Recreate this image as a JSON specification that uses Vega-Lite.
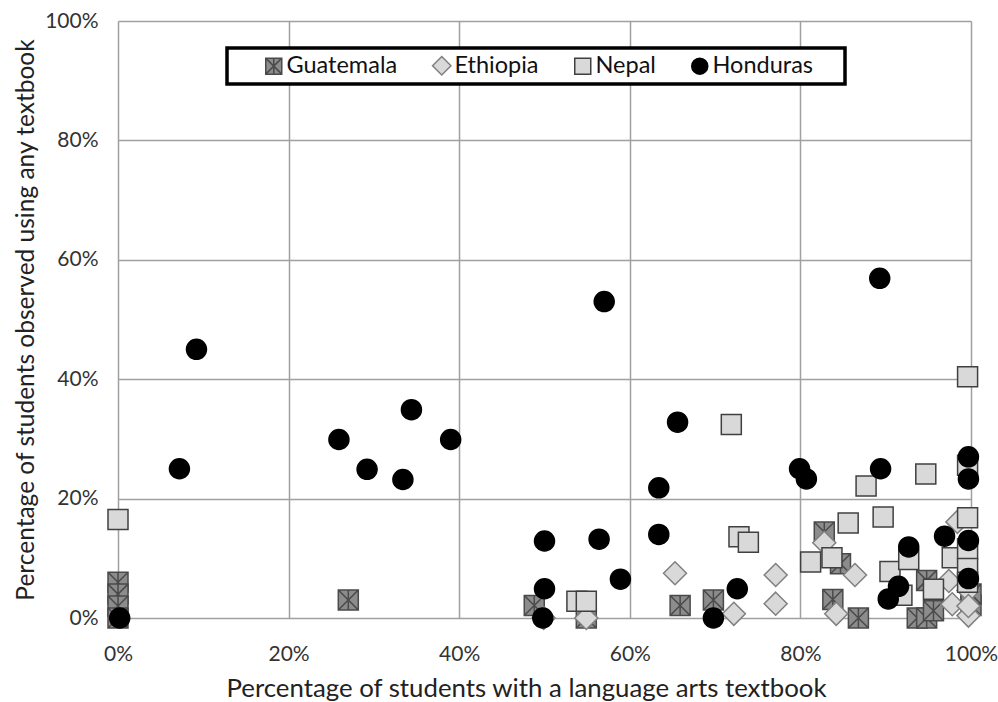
{
  "$schema": "https://vega.github.io/schema/vega-lite/v6.json",
  "width": 853,
  "height": 597,
  "autosize": {"type": "none"},
  "padding": {"left": 118, "top": 21, "right": 27, "bottom": 84},
  "background": "white",
  "data": {"values": [
    {"country": "Guatemala", "book": 0, "using": 6},
    {"country": "Guatemala", "book": 0, "using": 4},
    {"country": "Guatemala", "book": 0, "using": 2},
    {"country": "Guatemala", "book": 0, "using": 0},
    {"country": "Guatemala", "book": 27, "using": 3},
    {"country": "Guatemala", "book": 48.8, "using": 2.1},
    {"country": "Guatemala", "book": 54.9, "using": 0},
    {"country": "Guatemala", "book": 65.9, "using": 2.1},
    {"country": "Guatemala", "book": 69.8, "using": 3},
    {"country": "Guatemala", "book": 82.8, "using": 14.4},
    {"country": "Guatemala", "book": 84.7, "using": 9.1},
    {"country": "Guatemala", "book": 83.8, "using": 3.1},
    {"country": "Guatemala", "book": 86.8, "using": 0},
    {"country": "Guatemala", "book": 93.7, "using": 0},
    {"country": "Guatemala", "book": 94.8, "using": 0},
    {"country": "Guatemala", "book": 94.8, "using": 6.3},
    {"country": "Guatemala", "book": 95.6, "using": 1.2},
    {"country": "Guatemala", "book": 100, "using": 2.1},
    {"country": "Guatemala", "book": 100, "using": 4},
    {"country": "Ethiopia", "book": 49.9, "using": 0},
    {"country": "Ethiopia", "book": 54.9, "using": 0},
    {"country": "Ethiopia", "book": 65.3, "using": 7.5},
    {"country": "Ethiopia", "book": 72.2, "using": 0.7},
    {"country": "Ethiopia", "book": 77.1, "using": 7.2},
    {"country": "Ethiopia", "book": 77.1, "using": 2.4},
    {"country": "Ethiopia", "book": 82.8, "using": 12.6},
    {"country": "Ethiopia", "book": 84.2, "using": 0.7},
    {"country": "Ethiopia", "book": 86.4, "using": 7.2},
    {"country": "Ethiopia", "book": 97.4, "using": 6.2},
    {"country": "Ethiopia", "book": 97.8, "using": 2.3},
    {"country": "Ethiopia", "book": 98.4, "using": 16.1},
    {"country": "Ethiopia", "book": 99.7, "using": 0.4},
    {"country": "Ethiopia", "book": 99.7, "using": 4.6},
    {"country": "Ethiopia", "book": 99.7, "using": 2},
    {"country": "Nepal", "book": 0, "using": 16.5},
    {"country": "Nepal", "book": 53.8, "using": 2.8},
    {"country": "Nepal", "book": 54.9, "using": 2.8},
    {"country": "Nepal", "book": 71.9, "using": 32.4},
    {"country": "Nepal", "book": 72.8, "using": 13.6},
    {"country": "Nepal", "book": 73.9, "using": 12.7},
    {"country": "Nepal", "book": 81.2, "using": 9.4},
    {"country": "Nepal", "book": 83.7, "using": 10.1},
    {"country": "Nepal", "book": 85.6, "using": 15.9},
    {"country": "Nepal", "book": 87.7, "using": 22.1},
    {"country": "Nepal", "book": 89.7, "using": 16.9},
    {"country": "Nepal", "book": 90.5, "using": 7.8},
    {"country": "Nepal", "book": 91.9, "using": 3.8},
    {"country": "Nepal", "book": 92.7, "using": 9.8},
    {"country": "Nepal", "book": 94.7, "using": 24.1},
    {"country": "Nepal", "book": 95.6, "using": 4.8},
    {"country": "Nepal", "book": 97.8, "using": 10.1},
    {"country": "Nepal", "book": 99.6, "using": 40.4},
    {"country": "Nepal", "book": 99.6, "using": 25.6},
    {"country": "Nepal", "book": 99.6, "using": 16.8},
    {"country": "Nepal", "book": 99.6, "using": 11.6},
    {"country": "Nepal", "book": 99.6, "using": 8.3},
    {"country": "Nepal", "book": 99.6, "using": 6},
    {"country": "Honduras", "book": 0.2, "using": 0},
    {"country": "Honduras", "book": 7.2, "using": 25},
    {"country": "Honduras", "book": 9.2, "using": 45},
    {"country": "Honduras", "book": 25.9, "using": 29.9},
    {"country": "Honduras", "book": 29.2, "using": 24.9},
    {"country": "Honduras", "book": 33.4, "using": 23.2},
    {"country": "Honduras", "book": 34.4, "using": 34.9},
    {"country": "Honduras", "book": 39, "using": 29.9},
    {"country": "Honduras", "book": 49.8, "using": 0},
    {"country": "Honduras", "book": 50, "using": 4.9},
    {"country": "Honduras", "book": 50, "using": 12.9},
    {"country": "Honduras", "book": 56.4, "using": 13.2},
    {"country": "Honduras", "book": 57, "using": 53},
    {"country": "Honduras", "book": 58.9, "using": 6.5},
    {"country": "Honduras", "book": 63.4, "using": 21.8},
    {"country": "Honduras", "book": 63.4, "using": 14},
    {"country": "Honduras", "book": 65.6, "using": 32.8},
    {"country": "Honduras", "book": 69.8, "using": 0},
    {"country": "Honduras", "book": 72.6, "using": 4.9},
    {"country": "Honduras", "book": 79.9, "using": 25},
    {"country": "Honduras", "book": 80.7, "using": 23.3},
    {"country": "Honduras", "book": 89.3, "using": 56.9},
    {"country": "Honduras", "book": 89.4, "using": 25},
    {"country": "Honduras", "book": 90.3, "using": 3.2},
    {"country": "Honduras", "book": 91.5, "using": 5.3},
    {"country": "Honduras", "book": 92.7, "using": 11.9},
    {"country": "Honduras", "book": 96.9, "using": 13.7},
    {"country": "Honduras", "book": 99.7, "using": 27},
    {"country": "Honduras", "book": 99.7, "using": 23.3},
    {"country": "Honduras", "book": 99.7, "using": 13},
    {"country": "Honduras", "book": 99.7, "using": 6.6}
  ]},
  "mark": {"type": "point", "filled": false, "size": 400, "strokeWidth": 1.5, "opacity": 1, "fillOpacity": 1, "strokeOpacity": 1},
  "encoding": {
    "x": {
      "field": "book", "type": "quantitative",
      "scale": {"domain": [0, 100], "nice": false, "zero": false},
      "axis": {
        "title": "Percentage of students with a language arts textbook",
        "values": [0, 20, 40, 60, 80, 100],
        "labelExpr": "datum.value + '%'",
        "labelFlush": false,
        "labelPadding": 25,
        "titlePadding": 12,
        "titleFontSize": 25.8,
        "titleX": 408
      }
    },
    "y": {
      "field": "using", "type": "quantitative",
      "scale": {"domain": [0, 100], "nice": false, "zero": false},
      "axis": {
        "title": "Percentage of students observed using any textbook",
        "values": [0, 20, 40, 60, 80, 100],
        "labelExpr": "datum.value + '%'",
        "labelFlush": false,
        "labelPadding": 20,
        "titlePadding": 6
      }
    },
    "shape": {
      "field": "country", "type": "nominal",
      "scale": {
        "domain": ["Guatemala", "Ethiopia", "Nepal", "Honduras"],
        "range": ["M-1,-1H1V1H-1Z M-1,-1L1,1 M1,-1L-1,1 M0,-1V1", "M0,-1.15L1.15,0L0,1.15L-1.15,0Z", "square", "circle"]
      },
      "legend": {"title": "\u00a0"}
    },
    "fill": {
      "field": "country", "type": "nominal",
      "scale": {
        "domain": ["Guatemala", "Ethiopia", "Nepal", "Honduras"],
        "range": ["#8c8c8c", "#d9d9d9", "#d9d9d9", "#000000"]
      },
      "legend": {"title": "\u00a0"}
    },
    "stroke": {
      "field": "country", "type": "nominal",
      "scale": {
        "domain": ["Guatemala", "Ethiopia", "Nepal", "Honduras"],
        "range": ["#4a4a4a", "#808080", "#404040", "#000000"]
      },
      "legend": {"title": "\u00a0"}
    }
  },
  "config": {
    "font": "Lato",
    "view": {"stroke": null},
    "axis": {
      "grid": true,
      "gridColor": "#a0a0a0",
      "gridWidth": 1.5,
      "domain": false,
      "ticks": false,
      "labelFont": "Lato",
      "labelFontSize": 21,
      "labelColor": "#333333",
      "titleFont": "Lato",
      "titleFontSize": 24.5,
      "titleFontWeight": "normal",
      "titleColor": "#222222"
    },
    "legend": {
      "orient": "none",
      "legendX": 109,
      "legendY": 27,
      "direction": "horizontal",
      "columns": 4,
      "strokeColor": "#000000",
      "strokeWidth": 3.5,
      "fillColor": "#ffffff",
      "padding": 6,
      "symbolOffset": 29,
      "columnPadding": 3,
      "labelFont": "Lato",
      "labelFontSize": 23.5,
      "labelColor": "#111111",
      "labelOffset": 1,
      "symbolSize": 256,
      "symbolStrokeWidth": 1.5,
      "titleOrient": "right",
      "titlePadding": 26,
      "titleFontSize": 10
    }
  }
}
